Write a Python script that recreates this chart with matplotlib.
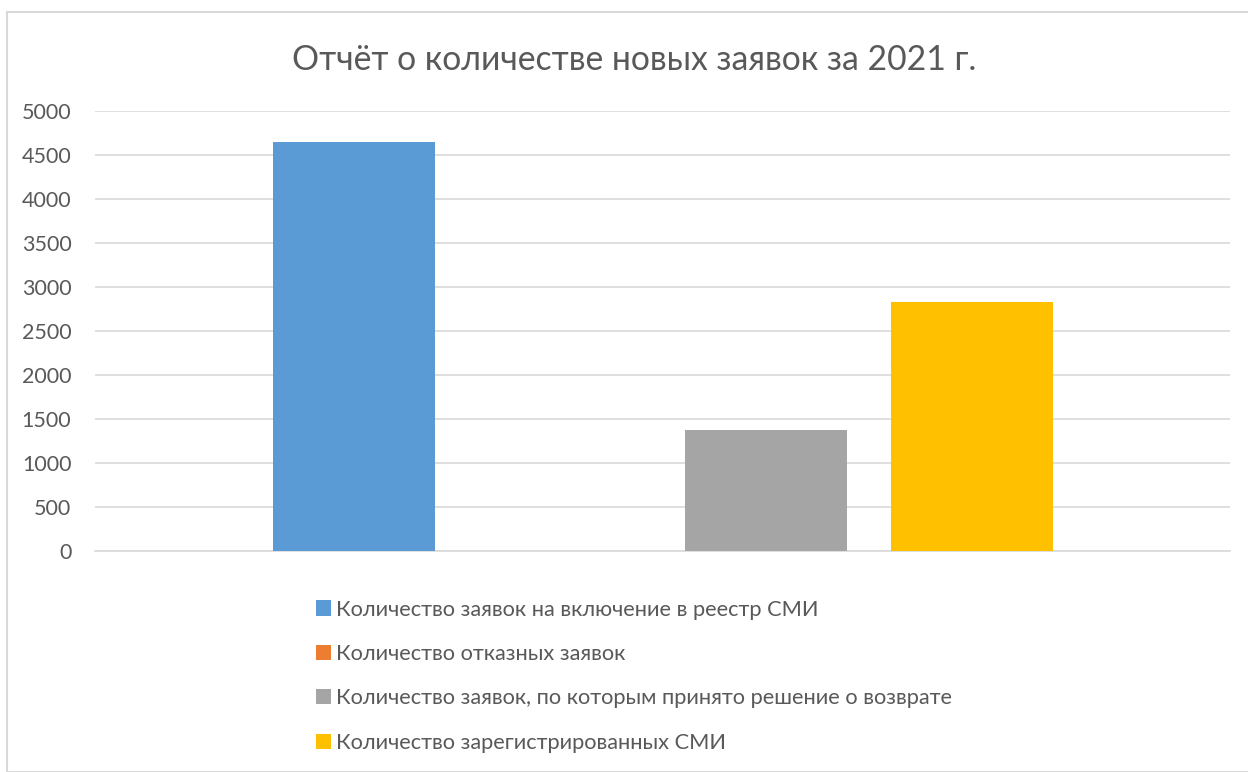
import matplotlib.pyplot as plt
from matplotlib.patches import Rectangle

title = 'Отчёт о количестве новых заявок за 2021 г.'
series = ['Количество заявок на включение в реестр СМИ',
          'Количество отказных заявок',
          'Количество заявок, по которым принято решение о возврате',
          'Количество зарегистрированных СМИ']
values = [4650, 0, 1380, 2835]
colors = ['#5b9bd5', '#ed7d31', '#a5a5a5', '#ffc000']
yticks = [0, 500, 1000, 1500, 2000, 2500, 3000, 3500, 4000, 4500, 5000]

plt.rcParams['font.family'] = ['Lato', 'DejaVu Sans']

W, H = 1248, 772
fig = plt.figure(figsize=(W / 100, H / 100), dpi=100)

# chart frame like Excel
fig.patches.append(Rectangle((7 / W, 0), 1, 1 - 12 / H, transform=fig.transFigure,
                             fill=False, edgecolor='#d9d9d9', linewidth=1.5))

ax = fig.add_axes([95 / W, 1 - 551 / H, (1230 - 95) / W, (551 - 111) / H])

width = 162 / 1135
step = 206 / 1135
n = len(values)
for i in range(n):
    x = (i - (n - 1) / 2) * step
    ax.bar(x, values[i], width=width, color=colors[i], label=series[i], zorder=3)

ax.set_xlim(-0.5, 0.5)
ax.set_ylim(0, 5000)
ax.set_yticks(yticks)
ax.set_xticks([])
ax.tick_params(axis='y', length=0, pad=17, labelsize=15.5, labelcolor='#595959')
ax.grid(axis='y', color='#d9d9d9', linewidth=1.2, zorder=0)
for s in ['top', 'right', 'left']:
    ax.spines[s].set_visible(False)
ax.spines['bottom'].set_color('#d9d9d9')
ax.spines['bottom'].set_linewidth(1.2)

fig.text(634 / W, 1 - 60 / H, title, ha='center', va='center', fontsize=24.3, color='#595959')

handles, labels = ax.get_legend_handles_labels()
fig.legend(handles, labels, loc='upper left', bbox_to_anchor=(296 / W, 1 - 580 / H),
           ncol=1, frameon=False, fontsize=15.7, labelcolor='#595959',
           handlelength=0.7, handleheight=0.7, handletextpad=0.25, labelspacing=1.12)

fig.savefig('out.png', dpi=100)
